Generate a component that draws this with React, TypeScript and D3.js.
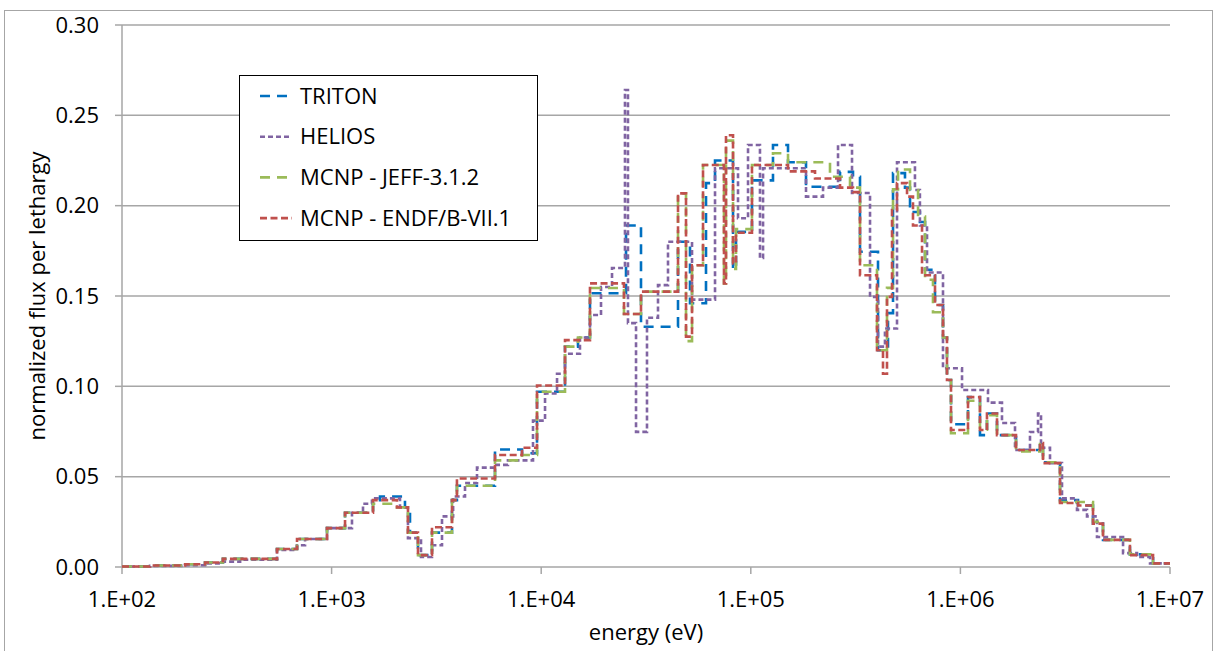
import * as d3 from "d3";

// step series: [energy (eV), value] — value holds until the next edge
const triton: [number, number][] = [
  [100, 0.0003], [136, 0.0008], [200, 0.0015], [249, 0.0025], [303, 0.0045], [549, 0.01], [684, 0.0155], [951, 0.0215],
  [1159, 0.03], [1576, 0.036], [1702, 0.039], [2239, 0.033], [2366, 0.019], [2583, 0.0066], [3013, 0.019], [3753, 0.037], [3963, 0.045], [6020, 0.065], [8100, 0.063], [9550, 0.097],
  [12990, 0.122], [14980, 0.127], [17090, 0.1515], [25390, 0.189], [29930, 0.133], [44950, 0.18], [51280, 0.146], [61130, 0.2125], [67500, 0.225], [82260, 0.165], [85000, 0.1855],
  [101300, 0.214], [127600, 0.2336], [150500, 0.224], [183400, 0.2105], [266500, 0.2187], [307300, 0.216], [331900, 0.1745], [404500, 0.12], [451400, 0.1405], [477000, 0.218], [544000, 0.21], [575000, 0.1965], [641000, 0.191], [678000, 0.1645], [756500, 0.145], [826000, 0.127], [863000, 0.1035], [902000, 0.079],
  [1087000, 0.094], [1240000, 0.073], [1339000, 0.085], [1495000, 0.073], [1842000, 0.0648], [2398000, 0.0686], [2478000, 0.058], [2987000, 0.037], [3640000, 0.034], [4292000, 0.024], [4790000, 0.015], [6440000, 0.007], [8300000, 0.002],
];

const helios: [number, number][] = [
  [100, 0.0003], [136, 0.0006], [200, 0.001], [249, 0.002], [303, 0.003], [366, 0.004], [549, 0.0095], [684, 0.012], [747, 0.0155], [951, 0.0215],
  [1251, 0.03], [1412, 0.035], [1558, 0.038], [2120, 0.033], [2314, 0.016], [2670, 0.0055], [3013, 0.012], [3363, 0.028], [3800, 0.039], [4330, 0.0465], [4940, 0.055], [6020, 0.0565], [6940, 0.059], [9140, 0.081],
  [10430, 0.096], [11900, 0.107], [12990, 0.118], [15310, 0.127], [17090, 0.1395], [19290, 0.155], [21770, 0.1655], [25100, 0.264], [25940, 0.135], [28340, 0.0748], [31970, 0.138], [36080, 0.156], [40270, 0.18], [52430, 0.148], [67500, 0.2207], [86900, 0.193], [97000, 0.2336], [110600, 0.171], [114400, 0.2207],
  [183400, 0.205], [221100, 0.21], [260700, 0.2336], [304000, 0.207], [370500, 0.1495], [404500, 0.122], [436600, 0.132], [498400, 0.224], [607000, 0.2087], [641000, 0.189], [693000, 0.163], [826000, 0.11],
  [1018000, 0.098], [1354000, 0.091], [1579000, 0.0797], [1822000, 0.0648], [2148000, 0.0747], [2346000, 0.085], [2424000, 0.066], [2676000, 0.0575], [3053000, 0.038], [3600000, 0.0316], [4018000, 0.028], [4484000, 0.0166], [5970000, 0.0077], [6960000, 0.0055], [8030000, 0.002],
];

const jeff: [number, number][] = [
  [100, 0.0003], [136, 0.0008], [200, 0.0015], [249, 0.0025], [303, 0.0045], [549, 0.01], [684, 0.0155], [951, 0.0215],
  [1159, 0.03], [1576, 0.035], [2051, 0.033], [2314, 0.019], [2583, 0.0066], [3013, 0.019], [3753, 0.037], [3963, 0.045], [6020, 0.059], [8100, 0.062], [9550, 0.097],
  [12990, 0.122], [14980, 0.127], [17090, 0.1544], [24830, 0.14], [29930, 0.1524], [44950, 0.2068], [49080, 0.125], [52430, 0.167], [59160, 0.2225], [74480, 0.157], [76150, 0.236], [82260, 0.165], [85000, 0.187],
  [101300, 0.2225], [127600, 0.229], [150500, 0.224], [238700, 0.216], [297400, 0.21], [331900, 0.167], [400000, 0.12], [446500, 0.1545], [477000, 0.209], [504000, 0.22], [575000, 0.2087], [628000, 0.194], [678000, 0.159], [740000, 0.141], [826000, 0.127], [863000, 0.1035], [902000, 0.074],
  [1087000, 0.092], [1240000, 0.076], [1339000, 0.084], [1495000, 0.073], [1842000, 0.064], [2398000, 0.068], [2478000, 0.058], [2987000, 0.036], [4292000, 0.025], [4790000, 0.015], [6440000, 0.007], [8300000, 0.002],
];

const endf: [number, number][] = [
  [100, 0.0003], [136, 0.0008], [200, 0.0015], [249, 0.0025], [303, 0.0045], [549, 0.01], [684, 0.0155], [951, 0.0215],
  [1159, 0.03], [1576, 0.037], [2051, 0.033], [2314, 0.019], [2583, 0.0066], [3013, 0.022], [3753, 0.037], [3963, 0.049], [6020, 0.062], [8100, 0.066], [9550, 0.1005],
  [12990, 0.1256], [17090, 0.157], [24830, 0.14], [29930, 0.1524], [44950, 0.2068], [49080, 0.1275], [52430, 0.167], [59160, 0.2225], [74480, 0.157], [76150, 0.239], [82260, 0.168], [85000, 0.185],
  [101300, 0.2225], [150500, 0.219], [202500, 0.215], [266500, 0.21], [307300, 0.2075], [331900, 0.1615], [400000, 0.12], [427300, 0.107], [446500, 0.1495], [471800, 0.1976], [498400, 0.2125], [556400, 0.205], [594000, 0.189], [656000, 0.1615], [756500, 0.145], [826000, 0.127], [863000, 0.1035], [902000, 0.0758],
  [1087000, 0.094], [1240000, 0.0758], [1339000, 0.085], [1495000, 0.073], [1842000, 0.0648], [2398000, 0.0686], [2478000, 0.0575], [2987000, 0.0354], [3640000, 0.034], [4292000, 0.024], [4790000, 0.015], [6440000, 0.0066], [8300000, 0.002],
];

const seriesNames = ["TRITON", "HELIOS", "MCNP - JEFF-3.1.2", "MCNP - ENDF/B-VII.1"];
const xTicks = [1e2, 1e3, 1e4, 1e5, 1e6, 1e7];
const yTicks = [0, 0.05, 0.1, 0.15, 0.2, 0.25, 0.3];

const W = 1219;
const H = 651;
const plot = { left: 122, right: 1170, top: 25, bottom: 567 };
const font = "'Open Sans', 'Liberation Sans', sans-serif";

export default function App() {
  const x = d3.scaleLog().domain([1e2, 1e7]).range([plot.left, plot.right]);
  const y = d3.scaleLinear().domain([0, 0.3]).range([plot.bottom, plot.top]);

  const line = d3
    .line<[number, number]>()
    .x((d) => x(d[0]))
    .y((d) => y(d[1]))
    .curve(d3.curveStepAfter);

  // close each step series at the upper energy bound
  const close = (s: [number, number][]): [number, number][] => [...s, [1e7, s[s.length - 1][1]]];

  const series = [
    { name: seriesNames[0], data: triton, color: "#0070C0", dash: "10,7" },
    { name: seriesNames[1], data: helios, color: "#8064A2", dash: "5,3" },
    { name: seriesNames[2], data: jeff, color: "#9BBB59", dash: "10,7" },
    { name: seriesNames[3], data: endf, color: "#C0504D", dash: "7,3.5" },
  ];

  const expLabel = (v: number) => "1.E+" + String(Math.round(Math.log10(v))).padStart(2, "0");

  return (
    <svg width={W} height={H} style={{ position: "absolute", left: 0, top: 0, background: "#fff" }} fontFamily={font}>
      <rect x={4.5} y={10.5} width={1208} height={660} fill="#fff" stroke="#a6a6a6" />

      {/* gridlines */}
      {yTicks.map((t) => (
        <line key={t} x1={plot.left} x2={plot.right} y1={y(t)} y2={y(t)} stroke="#a6a6a6" strokeWidth={1.5} />
      ))}
      {/* y axis */}
      <line x1={plot.left} x2={plot.left} y1={plot.top} y2={plot.bottom} stroke="#a6a6a6" strokeWidth={1.5} />
      {yTicks.map((t) => (
        <g key={"yt" + t}>
          <line x1={plot.left - 7} x2={plot.left} y1={y(t)} y2={y(t)} stroke="#a6a6a6" strokeWidth={1.5} />
          <text x={99} y={y(t)} dy="0.35em" textAnchor="end" fontSize={22} fill="#000">
            {t.toFixed(2)}
          </text>
        </g>
      ))}
      {/* x axis ticks */}
      {xTicks.map((t) => (
        <g key={"xt" + t}>
          <line x1={x(t)} x2={x(t)} y1={plot.bottom} y2={plot.bottom + 7} stroke="#a6a6a6" strokeWidth={1.5} />
          <text x={x(t)} y={607} textAnchor="middle" fontSize={22} fill="#000">
            {expLabel(t)}
          </text>
        </g>
      ))}

      {/* series */}
      {series.map((s) => (
        <path
          key={s.name}
          d={line(close(s.data)) ?? ""}
          fill="none"
          stroke={s.color}
          strokeWidth={2.6}
          strokeDasharray={s.dash}
        />
      ))}

      {/* axis titles */}
      <text x={(plot.left + plot.right) / 2} y={640} textAnchor="middle" fontSize={22} fill="#000">
        energy (eV)
      </text>
      <text
        transform={`translate(45,${(plot.top + plot.bottom) / 2}) rotate(-90)`}
        textAnchor="middle"
        fontSize={22}
        fill="#000"
      >
        normalized flux per lethargy
      </text>

      {/* legend */}
      <rect x={239.5} y={75.5} width={298} height={165} fill="#fff" stroke="#000" />
      {series.map((s, i) => (
        <g key={"lg" + s.name} transform={`translate(0,${96 + i * 40.7})`}>
          <line x1={260} x2={292} y1={0} y2={0} stroke={s.color} strokeWidth={2.6} strokeDasharray={s.dash} />
          <text x={300} y={0} dy="0.35em" fontSize={22} fill="#000">
            {s.name}
          </text>
        </g>
      ))}
    </svg>
  );
}
